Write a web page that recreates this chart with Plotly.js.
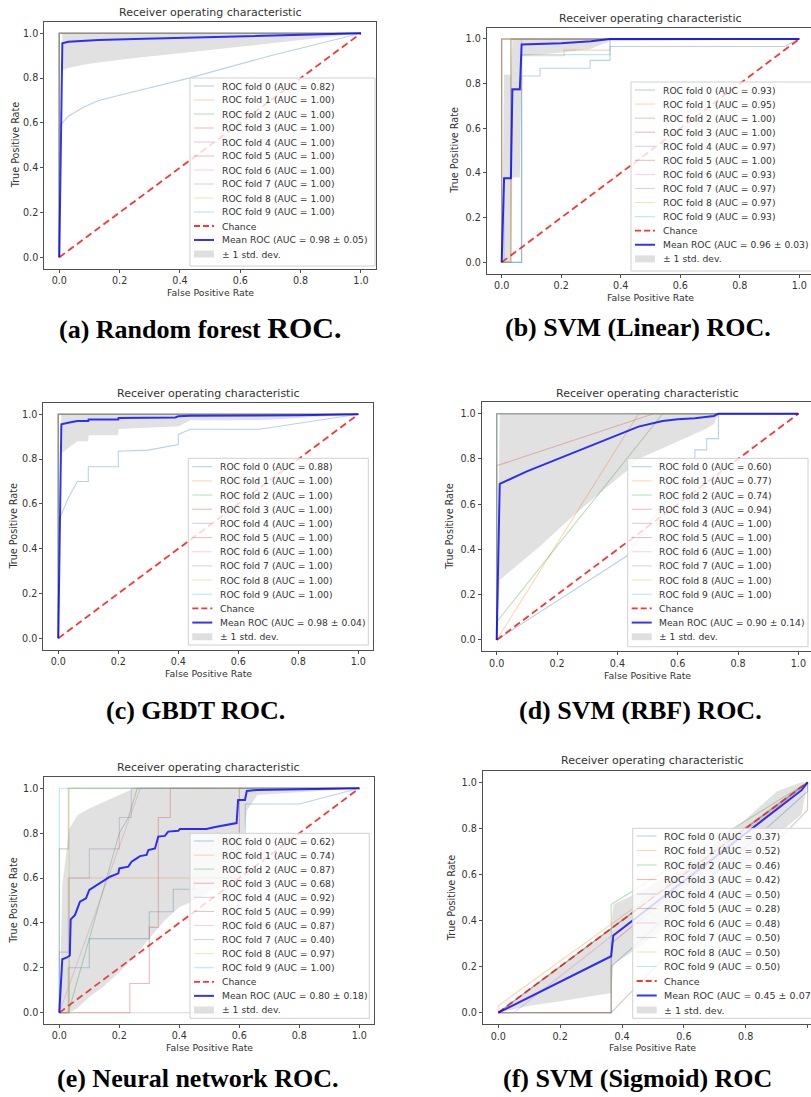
<!DOCTYPE html>
<html><head><meta charset="utf-8">
<script src="https://cdn.plot.ly/plotly-3.0.1.min.js"></script>
<style>html,body{margin:0;padding:0;background:#fff;}#chart{width:811px;height:1097px;}</style>
</head><body><div id="chart"></div>
<script>
// ---------------- DATA ----------------
const tickVals = [0, 0.2, 0.4, 0.6, 0.8, 1.0];
const tickText = ['0.0', '0.2', '0.4', '0.6', '0.8', '1.0'];
const plotTitle = 'Receiver operating characteristic';
const xLabel = 'False Positive Rate';
const yLabel = 'True Positive Rate';
const captions = ['(a) Random forest ROC.', '(b) SVM (Linear) ROC.', '(c) GBDT ROC.', '(d) SVM (RBF) ROC.', '(e) Neural network ROC.', '(f) SVM (Sigmoid) ROC'];
const chanceX = [0, 1];
const chanceY = [0, 1];
const foldColors = ['#1f77b4','#ff7f0e','#2ca02c','#d62728','#9467bd','#8c564b','#e377c2','#7f7f7f','#bcbd22','#17becf'];

// (a) Random forest
const A_auc = [0.82, 1.00, 1.00, 1.00, 1.00, 1.00, 1.00, 1.00, 1.00, 1.00];
const A_meanAuc = [0.98, 0.05];
const A_foldX = [[0,0,0.01,0.03,0.08,0.13,0.25,0.43,0.7,1],[0,0,1],[0,0,1],[0,0,1],[0,0,1],[0,0,1],[0,0,1],[0,0,1],[0,0,1],[0,0,1]];
const A_foldY = [[0,0.58,0.60,0.63,0.67,0.70,0.74,0.80,0.90,1],[0,1,1],[0,1,1],[0,1,1],[0,1,1],[0,1,1],[0,1,1],[0,1,1],[0,1,1],[0,1,1]];
const A_meanX = [0, 0.0101, 0.03, 0.08, 0.13, 0.25, 0.43, 0.7, 1.0];
const A_meanY = [0, 0.955, 0.962, 0.966, 0.97, 0.974, 0.98, 0.99, 1.0];
const A_bandX = [0, 0.0101, 0.03, 0.08, 0.13, 0.25, 0.43, 0.7, 1.0];
const A_bandLo = [0, 0.835, 0.845, 0.86, 0.87, 0.89, 0.915, 0.955, 1.0];
const A_bandHi = [0, 1, 1, 1, 1, 1, 1, 1, 1];

// (b) SVM (Linear)
const B_auc = [0.93, 0.95, 1.00, 1.00, 0.97, 1.00, 0.93, 0.97, 0.97, 0.93];
const B_meanAuc = [0.96, 0.03];
const B_foldX = [[0,0.067,0.067,0.129,0.129,0.297,0.297,0.364,0.364,0.95,1],[0,0.031,0.031,0.067,0.067,0.21,0.21,0.364,0.364,1],[0,0,1],[0,0,1],[0,0.031,0.031,1],[0,0,1],[0,0.067,0.067,1],[0,0.008,0.008,0.031,0.031,1],[0,0.031,0.031,1],[0,0.067,0.067,0.364,0.364,1]];
const B_foldY = [[0,0,0.834,0.834,0.869,0.869,0.904,0.904,0.966,0.966,1],[0,0,0.77,0.77,0.925,0.925,0.95,0.95,1,1],[0,1,1],[0,1,1],[0,0,1,1],[0,1,1],[0,0,1,1],[0,0,0.38,0.38,1,1],[0,0,1,1],[0,0,0.93,0.93,1,1]];
const B_meanX = [0, 0.008, 0.031, 0.036, 0.061, 0.067, 0.2, 0.3, 0.364, 1.0];
const B_meanY = [0, 0.376, 0.376, 0.775, 0.775, 0.975, 0.981, 0.99, 1.0, 1.0];
const B_bandX = [0, 0.008, 0.031, 0.036, 0.061, 0.067, 0.129, 0.21, 0.297, 0.364, 1.0];
const B_bandLo = [0, 0, 0, 0.38, 0.38, 0.925, 0.93, 0.94, 0.955, 0.99, 1.0];
const B_bandHi = [0, 0.84, 0.84, 1, 1, 1, 1, 1, 1, 1, 1];

// (c) GBDT
const C_auc = [0.88, 1.00, 1.00, 1.00, 1.00, 1.00, 1.00, 1.00, 1.00, 1.00];
const C_meanAuc = [0.98, 0.04];
const C_foldX = [[0,0.003,0.033,0.063,0.1,0.1,0.2,0.2,0.3,0.39,0.4,0.4,0.44,0.67,0.8,1],[0,0,1],[0,0,1],[0,0,1],[0,0,1],[0,0,1],[0,0,1],[0,0,1],[0,0,1],[0,0,1]];
const C_foldY = [[0,0.53,0.625,0.70,0.70,0.766,0.766,0.835,0.84,0.865,0.865,0.91,0.933,0.933,0.96,1],[0,1,1],[0,1,1],[0,1,1],[0,1,1],[0,1,1],[0,1,1],[0,1,1],[0,1,1],[0,1,1]];
const C_meanX = [0, 0.0101, 0.033, 0.063, 0.1, 0.101, 0.2, 0.201, 0.39, 0.4, 0.44, 0.67, 0.8, 1.0];
const C_meanY = [0, 0.955, 0.962, 0.97, 0.97, 0.977, 0.977, 0.983, 0.986, 0.991, 0.993, 0.993, 0.996, 1.0];
const C_bandX = [0, 0.0101, 0.033, 0.063, 0.1, 0.101, 0.2, 0.201, 0.39, 0.4, 0.44, 0.67, 0.8, 1.0];
const C_bandLo = [0, 0.825, 0.85, 0.88, 0.88, 0.906, 0.906, 0.934, 0.946, 0.946, 0.973, 0.973, 0.984, 1.0];
const C_bandHi = [0, 1, 1, 1, 1, 1, 1, 1, 1, 1, 1, 1, 1, 1];

// (d) SVM (RBF)
const D_auc = [0.60, 0.77, 0.74, 0.94, 1.00, 1.00, 1.00, 1.00, 1.00, 1.00];
const D_meanAuc = [0.90, 0.14];
const D_foldX = [[0,0.43,0.657,0.657,0.696,0.696,0.735,0.735,1],[0,0.47,1],[0,0,0.55,1],[0,0,0.52,1],[0,0,1],[0,0,1],[0,0,1],[0,0,1],[0,0,1],[0,0,1]];
const D_foldY = [[0,0.37,0.80,0.84,0.84,0.89,0.89,1,1],[0,1,1],[0,0.08,1,1],[0,0.77,1,1],[0,1,1],[0,1,1],[0,1,1],[0,1,1],[0,1,1],[0,1,1]];
const D_meanX = [0, 0.0101, 0.1, 0.2, 0.3, 0.4, 0.47, 0.55, 0.6, 0.657, 0.7, 0.72, 0.735, 1.0];
const D_meanY = [0, 0.69, 0.745, 0.798, 0.85, 0.903, 0.943, 0.968, 0.976, 0.98, 0.985, 0.99, 1.0, 1.0];
const D_bandX = [0, 0.0101, 0.14, 0.25, 0.36, 0.434, 0.47, 0.547, 0.635, 0.696, 0.72, 0.735, 1.0];
const D_bandLo = [0, 0.265, 0.41, 0.545, 0.67, 0.75, 0.80, 0.847, 0.90, 0.935, 0.955, 1.0, 1.0];
const D_bandHi = [0, 1, 1, 1, 1, 1, 1, 1, 1, 1, 1, 1, 1];

// (e) Neural network
const E_auc = [0.62, 0.74, 0.87, 0.68, 0.92, 0.99, 0.87, 0.40, 0.97, 1.00];
const E_meanAuc = [0.80, 0.18];
const E_foldX = [[0,0.03,0.03,0.1,0.1,0.3,0.3,0.38,0.38,0.45,0.45,0.62,0.62,0.8,1],[0,0.033,0.033,0.6,0.6,1],[0,0.03,0.2,0.23,0.26,1],[0,0.235,0.235,0.3,0.3,0.33,0.33,0.37,0.37,1],[0,0,0.03,0.03,0.1,0.1,0.2,0.2,0.24,0.24,1],[0,0,0.03,0.03,1],[0,0.27,1],[0,0.6,0.6,1],[0,0.033,0.033,1],[0,0,1]];
const E_foldY = [[0,0,0.2,0.2,0.33,0.33,0.45,0.45,0.55,0.55,0.6,0.6,0.93,0.93,1],[0,0,0.6,0.6,1,1],[0,0,0.8,0.87,1,1],[0,0,0.13,0.13,0.38,0.38,0.87,0.87,1,1],[0,0.27,0.27,0.6,0.6,0.73,0.73,0.87,0.87,1,1],[0,0.73,0.73,1,1],[0,1,1],[0,0,1,1],[0,0,1,1],[0,1,1]];
const E_meanX = [0,0.006,0.01,0.024,0.035,0.038,0.052,0.069,0.089,0.1,0.136,0.169,0.197,0.2,0.23,0.241,0.258,0.269,0.291,0.297,0.319,0.33,0.352,0.363,0.397,0.402,0.49,0.524,0.591,0.596,0.619,0.625,0.66,1];
const E_meanY = [0,0.153,0.238,0.245,0.255,0.416,0.435,0.495,0.51,0.547,0.576,0.606,0.621,0.643,0.651,0.673,0.688,0.698,0.703,0.725,0.732,0.785,0.788,0.807,0.811,0.819,0.819,0.829,0.845,0.948,0.948,0.988,0.993,1];
const E_bandX = [0, 0.0101, 0.033, 0.06, 0.1, 0.15, 0.2, 0.25, 0.3, 0.35, 0.4, 0.45, 0.5, 0.55, 0.6, 0.625, 0.66, 1.0];
const E_bandLo = [0, 0, 0, 0.02, 0.07, 0.12, 0.18, 0.25, 0.33, 0.41, 0.47, 0.5, 0.54, 0.57, 0.62, 0.9, 0.97, 1.0];
const E_bandHi = [0, 0.57, 0.82, 0.88, 0.91, 0.94, 0.97, 1, 1, 1, 1, 1, 1, 1, 1, 1, 1, 1];

// (f) SVM (Sigmoid)
const F_auc = [0.37, 0.52, 0.46, 0.42, 0.50, 0.28, 0.48, 0.50, 0.50, 0.50];
const F_meanAuc = [0.45, 0.07];
const F_foldX = [[0,0.365,0.365,1,1],[0,0,1],[0,0.365,0.365,1],[0,0.365,0.365,1],[0,1],[0,0.365,1,1],[0,0.05,1],[0,1],[0,1],[0,1]];
const F_foldY = [[0,0,0.2,0.96,1],[0,0.03,1],[0,0,0.47,1],[0,0,0.3,1],[0,1],[0,0,0.88,1],[0,0,1],[0,1],[0,1],[0,1]];
const F_meanX = [0, 0.365, 0.372, 0.6, 0.8, 0.98, 1.0];
const F_meanY = [0, 0.245, 0.335, 0.572, 0.78, 0.965, 1.0];
const F_bandX = [0, 0.1, 0.2, 0.3, 0.365, 0.372, 0.45, 0.6, 0.8, 0.9, 0.98, 1.0];
const F_bandLo = [0, 0.03, 0.05, 0.07, 0.085, 0.21, 0.28, 0.43, 0.63, 0.77, 0.86, 1.0];
const F_bandHi = [0, 0.1, 0.2, 0.3, 0.37, 0.47, 0.52, 0.63, 0.84, 0.96, 1.0, 1.0];

// ---------------- LAYOUT GEOMETRY (pixels) ----------------
const W = 811, H = 1097;
const panels = [
  {auc:A_auc, m:A_meanAuc, fx:A_foldX, fy:A_foldY, mx:A_meanX, my:A_meanY, bx:A_bandX, lo:A_bandLo, hi:A_bandHi,
   L:44.2, R:376, T:22.1, B:268.5, xmax:1.05, cut:false, titleX:210, titleY:12.7, ylabX:15, xlabY:292,
   leg:{l:190, r:375, t:78, b:266, first:86, step:14, fs:9.2}, cap:{x:200, y:327, big:true}},
  {auc:B_auc, m:B_meanAuc, fx:B_foldX, fy:B_foldY, mx:B_meanX, my:B_meanY, bx:B_bandX, lo:B_bandLo, hi:B_bandHi,
   L:486.8, R:811, T:27.8, B:273.5, xmax:1.0393, cut:true, titleX:650, titleY:18.3, ylabX:455, xlabY:297,
   leg:{l:631, r:816, t:82, b:271, first:90, step:14.07, fs:9.2}, cap:{x:638, y:327, big:false}},
  {auc:C_auc, m:C_meanAuc, fx:C_foldX, fy:C_foldY, mx:C_meanX, my:C_meanY, bx:C_bandX, lo:C_bandLo, hi:C_bandHi,
   L:43.3, R:373.3, T:403.1, B:649.5, xmax:1.05, cut:false, titleX:208, titleY:394, ylabX:13.3, xlabY:673,
   leg:{l:188.3, r:368.3, t:458.3, b:645, first:466.7, step:14.17, fs:9.2}, cap:{x:195, y:710, big:false}},
  {auc:D_auc, m:D_meanAuc, fx:D_foldX, fy:D_foldY, mx:D_meanX, my:D_meanY, bx:D_bandX, lo:D_bandLo, hi:D_bandHi,
   L:481.6, R:811, T:402.4, B:651.3, xmax:1.0418, cut:true, titleX:647, titleY:393.3, ylabX:450, xlabY:675,
   leg:{l:627.7, r:808, t:458.3, b:646.7, first:466.7, step:14.17, fs:9.2}, cap:{x:640, y:710, big:false}},
  {auc:E_auc, m:E_meanAuc, fx:E_foldX, fy:E_foldY, mx:E_meanX, my:E_meanY, bx:E_bandX, lo:E_bandLo, hi:E_bandHi,
   L:44.3, R:374.3, T:777.1, B:1023.9, xmax:1.05, cut:false, titleX:208, titleY:767.3, ylabX:13.3, xlabY:1047,
   leg:{l:190, r:369.3, t:833.3, b:1018.3, first:841, step:14.08, fs:9.2}, cap:{x:198, y:1078, big:false}},
  {auc:F_auc, m:F_meanAuc, fx:F_foldX, fy:F_foldY, mx:F_meanX, my:F_meanY, bx:F_bandX, lo:F_bandLo, hi:F_bandHi,
   L:482.8, R:811, T:770.8, B:1024.2, xmax:1.011, cut:true, titleX:652, titleY:760.7, ylabX:451.7, xlabY:1047,
   leg:{l:632.7, r:822, t:828.3, b:1018.3, first:836, step:14.5, fs:9.5}, cap:{x:637, y:1078, big:false}}
];

// ---------------- BUILD ----------------
const FONT = 'DejaVu Sans, sans-serif';
const TXT = '#333';
const AX = '#505050';
const px = v => v / W;
const py = v => 1 - v / H;
function rgba(hex, a) {
  const n = parseInt(hex.slice(1), 16);
  return `rgba(${(n >> 16) & 255},${(n >> 8) & 255},${n & 255},${a})`;
}
const traces = [], shapes = [], annotations = [];
const layout = {
  width: W, height: H, margin: {l:0, r:0, t:0, b:0, autoexpand:false},
  paper_bgcolor: '#fff', plot_bgcolor: '#fff', showlegend: false,
  font: {family: FONT, color: TXT, size: 9.2}
};

panels.forEach((p, k) => {
  const n = k + 1;
  const xa = n === 1 ? 'x' : 'x' + n, ya = n === 1 ? 'y' : 'y' + n;
  p.fx.forEach((xs, i) => traces.push({type:'scatter', mode:'lines', x:xs, y:p.fy[i], xaxis:xa, yaxis:ya,
    line:{color:rgba(foldColors[i], 0.32), width:1.1}, hoverinfo:'skip'}));
  traces.push({type:'scatter', mode:'lines', x:chanceX, y:chanceY, xaxis:xa, yaxis:ya,
    line:{color:'rgba(255,0,0,0.8)', width:1.8, dash:'7px,4px'}, hoverinfo:'skip'});
  traces.push({type:'scatter', mode:'lines', x:p.bx, y:p.lo, xaxis:xa, yaxis:ya,
    line:{width:0, color:'rgba(0,0,0,0)'}, hoverinfo:'skip'});
  traces.push({type:'scatter', mode:'lines', x:p.bx, y:p.hi, xaxis:xa, yaxis:ya, fill:'tonexty',
    fillcolor:'rgba(128,128,128,0.24)', line:{width:0, color:'rgba(0,0,0,0)'}, hoverinfo:'skip'});
  traces.push({type:'scatter', mode:'lines', x:p.mx, y:p.my, xaxis:xa, yaxis:ya,
    line:{color:'rgba(0,0,255,0.8)', width:2}, hoverinfo:'skip'});

  const common = {tickvals:tickVals, ticktext:tickText, ticks:'outside', ticklen:3, tickwidth:1, tickcolor:AX,
    showline:true, linecolor:AX, linewidth:1, showgrid:false, zeroline:false, fixedrange:true,
    tickfont:{family:FONT, size:9.6, color:TXT}};
  layout['xaxis' + (n === 1 ? '' : n)] = Object.assign({}, common, {domain:[px(p.L), px(p.R)],
    range:[-0.05, p.xmax], anchor:ya, mirror:true});
  layout['yaxis' + (n === 1 ? '' : n)] = Object.assign({}, common, {domain:[py(p.B), py(p.T)],
    range:[-0.05, 1.05], anchor:xa, mirror:!p.cut});

  // titles and axis labels
  annotations.push({xref:'paper', yref:'paper', x:px(p.titleX), y:py(p.titleY), text:plotTitle, showarrow:false,
    xanchor:'center', yanchor:'middle', font:{family:FONT, size:11, color:TXT}});
  annotations.push({xref:'paper', yref:'paper', x:px((p.L + (p.cut ? p.L + 1.1 * (p.R - p.L) / (p.xmax + 0.05) : p.R)) / 2), y:py(p.xlabY), text:xLabel, showarrow:false,
    xanchor:'center', yanchor:'middle', font:{family:FONT, size:9.4, color:TXT}});
  annotations.push({xref:'paper', yref:'paper', x:px(p.ylabX), y:py((p.T + p.B) / 2), text:yLabel, showarrow:false,
    textangle:-90, xanchor:'center', yanchor:'middle', font:{family:FONT, size:9.6, color:TXT}});

  // legend box
  const g = p.leg;
  shapes.push({type:'rect', xref:'paper', yref:'paper', x0:px(g.l), x1:px(g.r), y0:py(g.b), y1:py(g.t),
    fillcolor:'rgba(255,255,255,0.8)', line:{color:'#d0d0d0', width:1}, layer:'above'});
  const labels = p.auc.map((a, i) => `ROC fold ${i} (AUC = ${a.toFixed(2)})`);
  labels.push('Chance');
  labels.push(`Mean ROC (AUC = ${p.m[0].toFixed(2)} \u00b1 ${p.m[1].toFixed(2)})`);
  labels.push('\u00b1 1 std. dev.');
  labels.forEach((lab, i) => {
    const yy = g.first + i * g.step;
    if (i < 10) {
      shapes.push({type:'line', xref:'paper', yref:'paper', x0:px(g.l + 4), x1:px(g.l + 24), y0:py(yy), y1:py(yy),
        line:{color:rgba(foldColors[i], 0.32), width:1.1}, layer:'above'});
    } else if (i === 10) {
      shapes.push({type:'line', xref:'paper', yref:'paper', x0:px(g.l + 4), x1:px(g.l + 24), y0:py(yy), y1:py(yy),
        line:{color:'rgba(255,0,0,0.8)', width:1.8, dash:'6px,3px'}, layer:'above'});
    } else if (i === 11) {
      shapes.push({type:'line', xref:'paper', yref:'paper', x0:px(g.l + 4), x1:px(g.l + 24), y0:py(yy), y1:py(yy),
        line:{color:'rgba(0,0,255,0.8)', width:2}, layer:'above'});
    } else {
      shapes.push({type:'rect', xref:'paper', yref:'paper', x0:px(g.l + 4), x1:px(g.l + 24), y0:py(yy + 3.5), y1:py(yy - 3.5),
        fillcolor:'rgba(128,128,128,0.25)', line:{width:0}, layer:'above'});
    }
    annotations.push({xref:'paper', yref:'paper', x:px(g.l + 30.5), y:py(yy), text:lab, showarrow:false,
      xanchor:'left', yanchor:'middle', borderpad:0, font:{family:FONT, size:g.fs, color:TXT}});
  });

  // caption
  let capText = captions[k];
  if (p.cap.big) capText = capText.replace('ROC.', '<span style="font-size:30px">ROC.</span>');
  annotations.push({xref:'paper', yref:'paper', x:px(p.cap.x), y:py(p.cap.y), text:'<b>' + capText + '</b>', showarrow:false,
    xanchor:'center', yanchor:'middle', font:{family:'Liberation Serif, Times New Roman, serif', size:26, color:'#000'}});
});

layout.shapes = shapes;
layout.annotations = annotations;
Plotly.newPlot('chart', traces, layout, {displayModeBar:false, staticPlot:true});
</script></body></html>
